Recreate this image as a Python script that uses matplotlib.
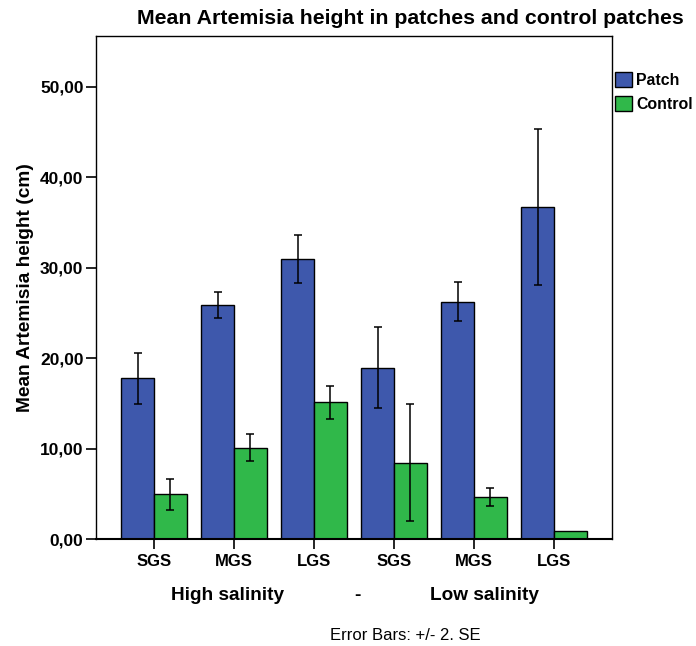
import numpy as np
import matplotlib.pyplot as plt

plt.rcParams['font.family'] = ['Liberation Sans', 'DejaVu Sans']

# Mean heights (cm) and +/- 2 SE per site
sites = ['SGS', 'MGS', 'LGS', 'SGS', 'MGS', 'LGS']
patch = [17.75, 25.85, 30.95, 18.95, 26.25, 36.7]
patch_err = [2.85, 1.42, 2.65, 4.45, 2.2, 8.6]
control = [4.95, 10.1, 15.1, 8.45, 4.65, 0.9]
control_err = [1.7, 1.47, 1.8, 6.43, 0.95, 0.0]

blue = '#3E58AC'
green = '#30B84A'

fig = plt.figure(figsize=(6.96, 6.46), dpi=100)
ax = fig.add_axes([96 / 696, 1 - 539 / 646, 516 / 696, 503 / 646])

x = np.arange(len(sites))
w = 0.41
ekw = dict(elinewidth=1.1, capthick=1.1, capsize=3, ecolor='black')
ax.bar(x - w / 2, patch, w, yerr=patch_err, color=blue, edgecolor='black',
       linewidth=1, label='Patch', error_kw=ekw)
ax.bar(x + w / 2, control, w, yerr=[e if e > 0 else np.nan for e in control_err],
       color=green, edgecolor='black', linewidth=1, label='Control', error_kw=ekw)

ax.set_xlim(-0.725, 5.725)
ax.set_ylim(0, 55.6)
ax.set_yticks([0, 10, 20, 30, 40, 50])
ax.set_yticklabels(['0,00', '10,00', '20,00', '30,00', '40,00', '50,00'],
                   fontsize=12.5, fontweight='bold')
ax.set_xticks(x)
ax.set_xticklabels(sites, fontsize=12, fontweight='bold')
ax.tick_params(axis='both', direction='out', length=7, width=1.2)
ax.tick_params(axis='y', pad=2)
ax.tick_params(axis='x', pad=4)
for s in ax.spines.values():
    s.set_linewidth(1)
ax.spines['bottom'].set_linewidth(1.5)

ax.set_ylabel('Mean Artemisia height (cm)', fontsize=13.8, fontweight='bold')
ax.yaxis.set_label_coords(-62 / 516, 0.5)

fig.text(410 / 696, 1 - 19 / 646, 'Mean Artemisia height in patches and control patches',
         ha='center', va='center', fontsize=15.3, fontweight='bold')

# salinity groups under the site labels
fig.text(228 / 696, 1 - 596 / 646, 'High salinity', ha='center', va='center',
         fontsize=13.7, fontweight='bold')
fig.text(357 / 696, 1 - 596 / 646, '-', ha='center', va='center',
         fontsize=13.7, fontweight='bold')
fig.text(484 / 696, 1 - 596 / 646, 'Low salinity', ha='center', va='center',
         fontsize=13.7, fontweight='bold')
fig.text(405 / 696, 1 - 635 / 646, 'Error Bars: +/- 2. SE', ha='center', va='center',
         fontsize=12)

leg = fig.legend(loc='upper left', bbox_to_anchor=(615 / 696, 1 - 72 / 646),
                 frameon=False, prop={'weight': 'bold', 'size': 11.4},
                 handlelength=1.07, handleheight=1.07, handletextpad=0.25,
                 labelspacing=0.5, borderpad=0, borderaxespad=0)

fig.savefig('out.png', dpi=100)
